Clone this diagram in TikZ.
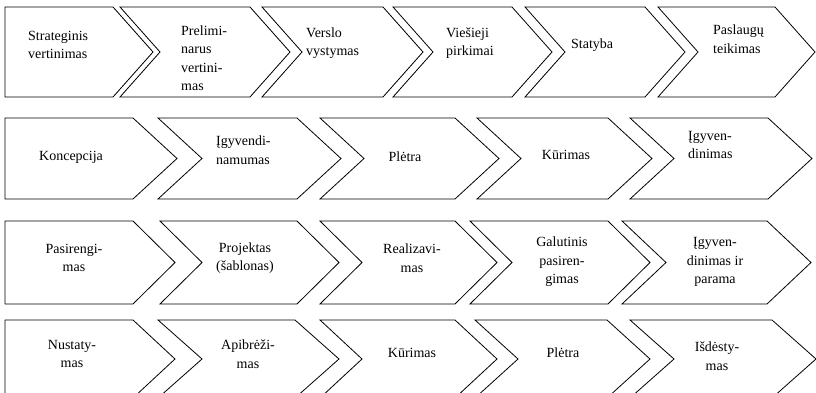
\documentclass[tikz,border=0pt]{standalone}
\usepackage{fontspec}
\setmainfont{Liberation Serif}
\newcommand\mychev[5]{% left, right, top, bottom, depth
  \draw[shp] (#1,#3) -- (#2,#3) -- ({#2+#5},{(#3+#4)/2}) -- (#2,#4) -- (#1,#4) -- ({#1+#5},{(#3+#4)/2}) -- cycle;}
\newcommand\mypent[5]{%
  \draw[shp] (#1,#3) -- (#2,#3) -- ({#2+#5},{(#3+#4)/2}) -- (#2,#4) -- (#1,#4) -- cycle;}
\begin{document}
\begin{tikzpicture}[x=1pt,y=-1pt,
  shp/.style={draw=black,line width=0.8pt,line join=miter},
  lbl/.style={font=\fontsize{14}{18.5}\selectfont,inner sep=0pt,align=left,anchor=west},
  clbl/.style={font=\fontsize{14}{18.5}\selectfont,inner sep=0pt,align=center}]
\useasboundingbox (0,0) rectangle (816,393);
\clip (0,0) rectangle (816,393);
% row 1
\mypent{5}{113}{7}{97}{40}
\mychev{120}{250}{7}{97}{40}
\mychev{262}{383}{7}{97}{40}
\mychev{393}{512}{7}{97}{40}
\mychev{525}{645}{7}{97}{40}
\mychev{658}{775}{7}{97}{40}
\node[lbl] (t11) at (28,45) {Strateginis\\vertinimas};
\node[lbl] (t12) at (181,58) {Prelimi-\\narus\\vertini-\\mas};
\node[lbl] (t13) at (306,43) {Verslo\\vystymas};
\node[lbl] (t14) at (446,43) {Viešieji\\pirkimai};
\node[lbl] (t15) at (571,45) {Statyba};
\node[lbl] (t16) at (713,39) {Paslaugų\\teikimas};
% row 2
\mypent{5}{133}{118}{199}{44}
\mychev{158}{297}{118}{199}{44}
\mychev{320}{455}{118}{199}{44}
\mychev{477}{608}{118}{199}{44}
\mychev{630}{768}{118}{199}{44}
\node[lbl] (t21) at (39,157) {Koncepcija};
\node[lbl] (t22) at (216,150) {Įgyvendi-\\namumas};
\node[clbl] (t23) at (405,157) {Plėtra};
\node[clbl] (t24) at (566,155) {Kūrimas};
\node[lbl] (t25) at (688,145) {Įgyven-\\dinimas};
% row 3
\mypent{5}{133}{221}{304}{42}
\mychev{160}{297}{221}{304}{42}
\mychev{320}{455}{221}{304}{42}
\mychev{470}{608}{221}{304}{42}
\mychev{622}{767}{221}{304}{44}
\node[clbl] (t31) at (74,258) {Pasirengi-\\mas};
\node[clbl] (t32) at (245,258) {Projektas\\(šablonas)};
\node[clbl] (t33) at (412,258) {Realizavi-\\mas};
\node[clbl] (t34) at (562,262) {Galutinis\\pasiren-\\gimas};
\node[clbl] (t35) at (715,262) {Įgyven-\\dinimas ir\\parama};
% row 4
\mypent{5}{133}{320}{398}{42}
\mychev{158}{295}{320}{398}{44}
\mychev{320}{455}{320}{398}{42}
\mychev{475}{607}{320}{398}{43}
\mychev{630}{772}{320}{398}{44}
\node[clbl] (t41) at (72,354) {Nustaty-\\mas};
\node[clbl] (t42) at (248,354) {Apibrėži-\\mas};
\node[clbl] (t43) at (412,353) {Kūrimas};
\node[clbl] (t44) at (563,353) {Plėtra};
\node[clbl] (t45) at (717,356) {Išdėsty-\\mas};
\end{tikzpicture}
\end{document}
